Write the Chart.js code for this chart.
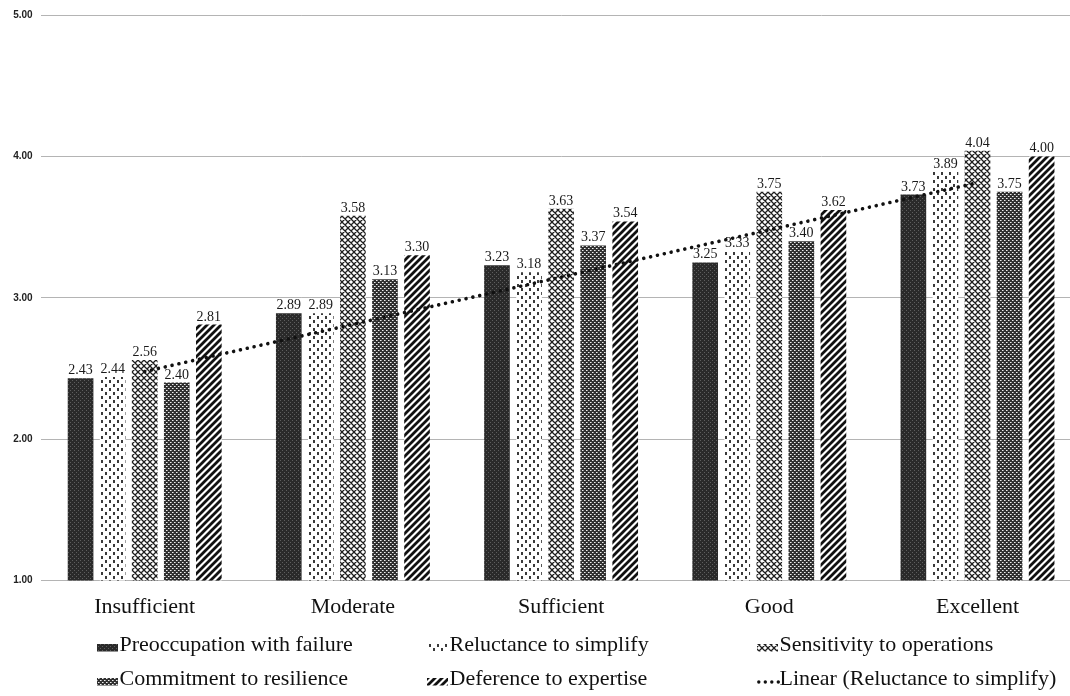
<!DOCTYPE html>
<html><head><meta charset="utf-8">
<script src="https://cdn.jsdelivr.net/npm/chart.js@4.4.0/dist/chart.umd.min.js"></script>
<style>
html,body{margin:0;padding:0;background:#fff;overflow:hidden;width:1070px;height:696px}
#wrap{position:absolute;left:0;top:0;width:1084px;height:696px}
canvas{display:block}
</style>
</head><body><div id="wrap"><canvas id="c" width="1084" height="696" style="width:1084px;height:696px"></canvas></div>
<script>
const categories = ['Insufficient', 'Moderate', 'Sufficient', 'Good', 'Excellent'];
const seriesNames = ['Preoccupation with failure', 'Reluctance to simplify', 'Sensitivity to operations', 'Commitment to resilience', 'Deference to expertise'];
const preoccupation = [2.43, 2.89, 3.23, 3.25, 3.73];
const reluctance    = [2.44, 2.89, 3.18, 3.33, 3.89];
const sensitivity   = [2.56, 3.58, 3.63, 3.75, 4.04];
const commitment    = [2.40, 3.13, 3.37, 3.40, 3.75];
const deference     = [2.81, 3.30, 3.54, 3.62, 4.00];
const trendName = 'Linear (Reluctance to simplify)';
const yMin = 1, yMax = 5, yStep = 1;

// linear least-squares trendline of the Reluctance series (as in the source's "Linear" trendline)
function linearTrend(vals) {
  const n = vals.length;
  const xs = vals.map((_, i) => i + 1);
  const mx = xs.reduce((a, b) => a + b, 0) / n;
  const my = vals.reduce((a, b) => a + b, 0) / n;
  let num = 0, den = 0;
  for (let i = 0; i < n; i++) { num += (xs[i] - mx) * (vals[i] - my); den += (xs[i] - mx) ** 2; }
  const b = num / den, a = my - b * mx;
  return xs.map(x => a + b * x);
}
const trend = linearTrend(reluctance);

const canvas = document.getElementById('c');
const ctx0 = canvas.getContext('2d');
function tile(w, h, draw) { const c = document.createElement('canvas'); c.width = w; c.height = h; const g = c.getContext('2d'); draw(g); return ctx0.createPattern(c, 'repeat'); }

const patPre = tile(4, 4, g => {
  g.fillStyle = '#2a2a2a'; g.fillRect(0, 0, 4, 4);
  g.fillStyle = '#5e5e5e'; g.fillRect(0, 0, 1, 1); g.fillRect(2, 2, 1, 1);
});
const patRel = tile(8, 8, g => {
  g.fillStyle = '#ffffff'; g.fillRect(0, 0, 8, 8);
  g.fillStyle = '#3a3a3a'; g.fillRect(1, 0, 2, 3); g.fillRect(5, 4, 2, 3);
});
const patSen = tile(6, 6, g => {
  g.fillStyle = '#ffffff'; g.fillRect(0, 0, 6, 6);
  g.strokeStyle = '#1e1e1e'; g.lineWidth = 1.3; g.beginPath();
  for (const k of [-6, 0, 6]) { g.moveTo(k - 1, -1); g.lineTo(k + 7, 7); g.moveTo(k + 7, -1); g.lineTo(k - 1, 7); }
  g.stroke();
});
const patCom = tile(4, 4, g => {
  g.fillStyle = '#303030'; g.fillRect(0, 0, 4, 4);
  g.fillStyle = '#eeeeee'; g.fillRect(0, 0, 1, 1); g.fillRect(2, 2, 1, 1);
  g.fillStyle = '#9a9a9a'; g.fillRect(1, 0, 1, 1); g.fillRect(3, 2, 1, 1);
});
const patDef = tile(7, 7, g => {
  g.fillStyle = '#ffffff'; g.fillRect(0, 0, 7, 7);
  g.strokeStyle = '#111111'; g.lineWidth = 2.8; g.beginPath();
  for (const k of [-7, 0, 7]) { g.moveTo(k - 1, 8); g.lineTo(k + 8, -1); }
  g.stroke();
});
const fills = [patPre, patRel, patSen, patCom, patDef];
const seriesData = [preoccupation, reluctance, sensitivity, commitment, deference];

const serif = '"Liberation Serif", "Times New Roman", serif';

const barLabels = {
  id: 'barLabels',
  afterDatasetsDraw(chart) {
    const c = chart.ctx;
    c.save();
    c.font = '14px ' + serif; c.fillStyle = '#1a1a1a'; c.textAlign = 'center'; c.textBaseline = 'alphabetic';
    chart.data.datasets.forEach((ds, i) => {
      if (ds.type === 'line') return;
      const meta = chart.getDatasetMeta(i);
      meta.data.forEach((bar, j) => { c.fillText(ds.data[j].toFixed(2), bar.x, bar.y - 4); });
    });
    c.restore();
  }
};

const gridLegend = {
  id: 'gridLegend',
  afterDraw(chart) {
    const c = chart.ctx;
    const colX = [97, 427, 757];
    const rowBase = [651, 685];
    c.save();
    c.font = '22px ' + serif; c.fillStyle = '#111'; c.textBaseline = 'alphabetic'; c.textAlign = 'left';
    chart.data.datasets.forEach((ds, i) => {
      const col = i % 3, row = Math.floor(i / 3);
      const x = colX[col], base = rowBase[row];
      if (ds.type === 'line') {
        c.fillStyle = '#111';
        for (let d = 0; d < 4; d++) { c.beginPath(); c.arc(x + 1.8 + d * 6.5, base - 3, 1.7, 0, Math.PI * 2); c.fill(); }
      } else {
        c.fillStyle = ds.backgroundColor;
        c.fillRect(x, base - 7, 21, 7.5);
      }
      c.fillStyle = '#111';
      c.fillText(ds.label, x + 22.5, base);
    });
    c.restore();
  }
};

const datasets = seriesData.map((d, i) => ({
  type: 'bar', label: seriesNames[i], data: d, backgroundColor: fills[i], borderWidth: 0, order: 1,
  categoryPercentage: 0.77, barPercentage: 0.8
}));
datasets.push({
  type: 'line', label: trendName, data: trend, borderColor: '#111', borderWidth: 3.6,
  borderDash: [0.01, 7], borderCapStyle: 'round', pointRadius: 0, fill: false, tension: 0, order: 0
});

new Chart(canvas, {
  data: { labels: categories, datasets },
  options: {
    responsive: false, animation: false, devicePixelRatio: 1,
    layout: { padding: { left: 0, right: 2.4, top: 15, bottom: 70.5 } },
    plugins: { legend: { display: false }, tooltip: { enabled: false } },
    scales: {
      x: {
        offset: true,
        grid: { display: false, drawTicks: false },
        border: { display: false },
        ticks: { font: { family: serif, size: 22 }, color: '#111', padding: 14, maxRotation: 0 },
        afterFit(s) { s.height = 45; }
      },
      y: {
        min: yMin, max: yMax,
        grid: { color: '#b4b4b4', lineWidth: 1, drawTicks: false },
        border: { display: false },
        ticks: { stepSize: yStep, padding: 8, color: '#222', font: { family: '"Liberation Sans", Arial, sans-serif', size: 10, weight: 'bold' }, callback: v => Number(v).toFixed(2) },
        afterFit(s) { s.width = 40.6; }
      }
    }
  },
  plugins: [barLabels, gridLegend]
});
</script>
</body></html>
